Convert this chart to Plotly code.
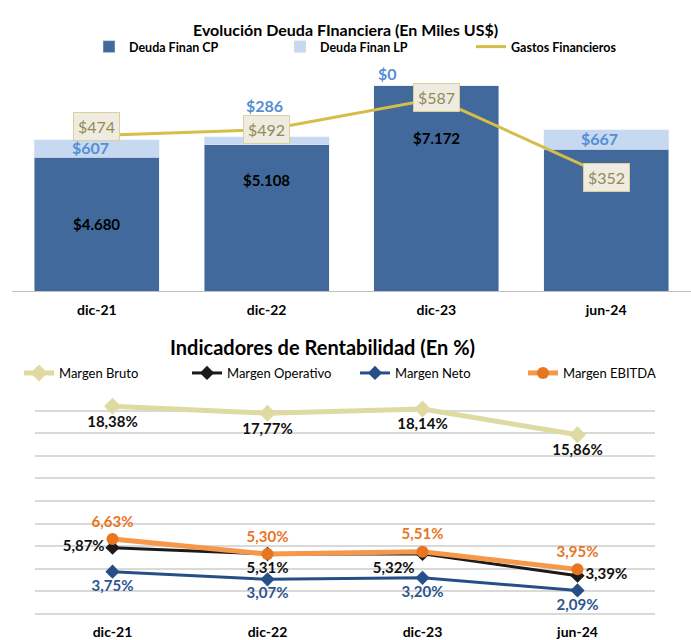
import plotly.graph_objects as go

# ---------------- data ----------------
periods = ["dic-21", "dic-22", "dic-23", "jun-24"]
deuda_cp = [4680, 5108, 7172, 4960]
deuda_lp = [607, 286, 0, 667]
gastos_fin = [474, 492, 587, 352]

margen_bruto = [18.38, 17.77, 18.14, 15.86]
margen_operativo = [5.87, 5.31, 5.32, 3.39]
margen_neto = [3.75, 3.07, 3.20, 2.09]
margen_ebitda = [6.63, 5.30, 5.51, 3.95]


def money(v):
    return "$" + f"{v:,.0f}".replace(",", ".")


def pct(v):
    return f"{v:.2f}%".replace(".", ",")


FONT = "Lato, 'Open Sans', sans-serif"
W, H = 691, 640

C_CP = "#41699B"
C_LP = "#C6D9F0"
C_LP_TXT = "#558ED5"
C_GAS = "#D6BC48"
C_BRUTO = "#DFDAA2"
C_OPER = "#1A1A1A"
C_NETO = "#264F88"
C_EBITDA = "#F5984A"
C_EBITDA_M = "#E8751F"

fig = go.Figure()

# ---------- top chart ----------
fig.add_trace(go.Bar(x=periods, y=deuda_cp, name="Deuda Finan CP", marker_color=C_CP,
                     xaxis="x", yaxis="y", legend="legend", hoverinfo="skip"))
fig.add_trace(go.Bar(x=periods, y=deuda_lp, name="Deuda Finan LP", marker_color=C_LP,
                     xaxis="x", yaxis="y", legend="legend", hoverinfo="skip"))
fig.add_trace(go.Scatter(x=periods, y=gastos_fin, name="Gastos Financieros", mode="lines",
                         line=dict(color=C_GAS, width=3), xaxis="x", yaxis="y2",
                         legend="legend", hoverinfo="skip"))

# ---------- bottom chart ----------
def line_trace(vals, name, color, width, symbol, msize, mcolor, tcolor, tpos):
    return go.Scatter(x=periods, y=vals, name=name, mode="lines+markers+text",
                      line=dict(color=color, width=width),
                      marker=dict(symbol=symbol, size=msize, color=mcolor),
                      text=[pct(v) for v in vals], textposition=tpos,
                      textfont=dict(family=FONT, size=15, color=tcolor, weight="bold"),
                      xaxis="x2", yaxis="y3", legend="legend2", hoverinfo="skip",
                      cliponaxis=False)

fig.add_trace(line_trace(margen_bruto, "Margen Bruto", C_BRUTO, 5, "diamond", 13, C_BRUTO,
                         "#111111", ["bottom center"] * 4))
fig.add_trace(line_trace(margen_operativo, "Margen Operativo", C_OPER, 3, "diamond", 11, C_OPER,
                         "#111111", ["middle left", "bottom center", "bottom left", "middle right"]))
fig.add_trace(line_trace(margen_neto, "Margen Neto", C_NETO, 3, "diamond", 11, C_NETO,
                         "#2D5590", ["bottom center"] * 4))
fig.add_trace(line_trace(margen_ebitda, "Margen EBITDA", C_EBITDA, 5, "circle", 12, C_EBITDA_M,
                         "#E8751F", ["top center"] * 4))

annotations = []
# CP labels (inside bars)
cp_frac = [0.5, 0.76, 0.745, 0.81]
for p, v, f in zip(periods, deuda_cp, cp_frac):
    annotations.append(dict(x=p, y=v * f, xref="x", yref="y", text=money(v), showarrow=False,
                            font=dict(family=FONT, size=15, color="#000000", weight="bold")))
# LP labels
lp_yshift = [-8, 31, 12, -9]
lp_xshift = [-6, -2, -49, -7]
for p, c, l, ys, xs in zip(periods, deuda_cp, deuda_lp, lp_yshift, lp_xshift):
    annotations.append(dict(x=p, y=c + l, xref="x", yref="y", text=money(l), showarrow=False,
                            yshift=ys, xshift=xs,
                            font=dict(family=FONT, size=16, color=C_LP_TXT, weight="bold")))
# Gastos labels
gas_yshift = [9, 0, 1, -2]
for p, g, ys in zip(periods, gastos_fin, gas_yshift):
    annotations.append(dict(x=p, y=g, xref="x", yref="y2", text=money(g), showarrow=False,
                            yshift=ys, bgcolor="#EEECE1", bordercolor="#DCCF98", borderwidth=1,
                            borderpad=4,
                            font=dict(family=FONT, size=16, color="#948A54")))
# titles
annotations.append(dict(x=345 / W, y=1 - 18 / H, xref="paper", yref="paper", showarrow=False,
                        text="Evolución Deuda FInanciera (En Miles US$)",
                        font=dict(family=FONT, size=16, color="#000000", weight="bold")))
annotations.append(dict(x=322 / W, y=1 - 347 / H, xref="paper", yref="paper", showarrow=False,
                        text="Indicadores de Rentabilidad (En %)",
                        font=dict(family=FONT, size=20, color="#000000", weight="bold")))

fig.update_layout(
    width=W, height=H, autosize=False,
    margin=dict(l=0, r=0, t=0, b=0),
    paper_bgcolor="white", plot_bgcolor="white",
    font=dict(family=FONT, color="#000000"),
    barmode="stack", bargap=0.265,
    annotations=annotations,
    xaxis=dict(domain=[12 / W, 1], anchor="y", showline=True, linecolor="#BFBFBF", linewidth=1,
               ticks="", ticklabelstandoff=6,
               tickfont=dict(family=FONT, size=14, color="#000000", weight="bold"),
               fixedrange=True),
    yaxis=dict(domain=[1 - 291 / H, 1 - 70 / H], range=[0, 7720], visible=False, showgrid=False,
               fixedrange=True),
    yaxis2=dict(overlaying="y", range=[0, 674], visible=False, showgrid=False),
    xaxis2=dict(domain=[35 / W, 655 / W], anchor="y3", range=[-0.5, 3.5], showline=False,
                showgrid=False, ticks="", ticklabelstandoff=8,
                tickfont=dict(family=FONT, size=14, color="#000000", weight="bold")),
    yaxis3=dict(domain=[1 - 614 / H, 1 - 388 / H], range=[0, 20], dtick=2, showgrid=True,
                gridcolor="#D9D9D9", gridwidth=1.5, zeroline=True, zerolinecolor="#D9D9D9",
                zerolinewidth=1.5, showticklabels=False),
    legend=dict(orientation="h", x=89 / W, xanchor="left", y=1 - 47 / H, yanchor="middle",
                entrywidth=146, traceorder="normal", bgcolor="rgba(0,0,0,0)",
                font=dict(family=FONT, size=12.5, color="#000000", weight="bold")),
    legend2=dict(orientation="h", x=33 / W, xanchor="left", y=1 - 373 / H, yanchor="middle",
                 entrywidth=123, traceorder="normal", bgcolor="rgba(0,0,0,0)",
                 font=dict(family=FONT, size=13, color="#000000")),
)

fig.write_html("out.html", config={"displayModeBar": False},
               post_script="document.body.style.margin='0';")
